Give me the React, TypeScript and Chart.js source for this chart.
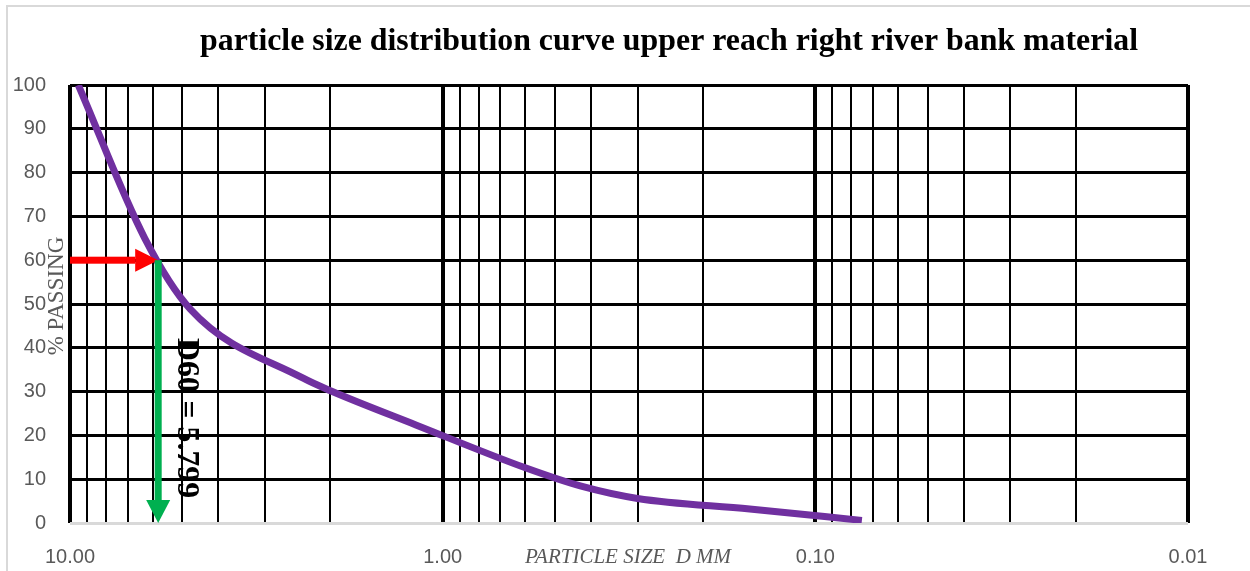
import React, { useEffect, useRef } from 'react';
import { Chart, registerables } from 'chart.js';

Chart.register(...registerables);

// ---- data ----
const SIEVE_SIZES_MM = [9.5, 6.3, 4.75, 2.36, 2.0, 1.18, 0.6, 0.425, 0.3, 0.15, 0.075];
const PERCENT_PASSING = [100, 65, 48.8, 33.0, 30.2, 22.4, 12.6, 8.4, 5.6, 3.2, 0.6];
const X_DECADES = [0.01, 0.1, 1];
const X_MULTIPLIERS = [1, 2, 3, 4, 5, 6, 7, 8, 9];
const X_MAX = 10;
const X_MIN = 0.01;
const Y_TICKS = [0, 5, 10, 15, 20, 25, 30, 35, 40, 45, 50, 55, 60, 65, 70, 75, 80, 85, 90, 95, 100];
const D60 = 5.799;
const D60_PERCENT = 60;
const TITLE = 'particle size distribution curve upper reach right river bank material';
const X_TITLE = 'PARTICLE SIZE  D MM';
const Y_TITLE = '% PASSING';
const D60_LABEL = 'D60 = 5.799';

const isDecade = (v: number) => Math.abs(Math.log10(v) - Math.round(Math.log10(v))) < 1e-9;

const annotationPlugin = {
  id: 'gsdAnnotations',
  beforeDraw(chart: any) {
    const ctx = chart.ctx;
    ctx.save();
    ctx.fillStyle = '#ffffff';
    ctx.fillRect(0, 0, chart.width, chart.height);
    ctx.strokeStyle = '#d9d9d9';
    ctx.lineWidth = 2;
    ctx.beginPath();
    ctx.moveTo(7, chart.height + 5);
    ctx.lineTo(7, 6);
    ctx.lineTo(chart.width + 5, 6);
    ctx.stroke();
    ctx.restore();
  },
  afterDatasetsDraw(chart: any) {
    const ctx = chart.ctx;
    const xs = chart.scales.x;
    const ys = chart.scales.y;
    const xD = xs.getPixelForValue(D60);
    const y60 = ys.getPixelForValue(D60_PERCENT);
    const xLeft = xs.getPixelForValue(X_MAX);
    const y0 = ys.getPixelForValue(0);
    ctx.save();
    const shaft = 7;
    const headL = 23;
    const headH = 11.5;
    // red horizontal arrow
    ctx.fillStyle = '#FF0000';
    ctx.fillRect(xLeft, y60 - shaft / 2, xD - headL - xLeft, shaft);
    ctx.beginPath();
    ctx.moveTo(xD - headL, y60 - headH);
    ctx.lineTo(xD, y60);
    ctx.lineTo(xD - headL, y60 + headH);
    ctx.closePath();
    ctx.fill();
    // green vertical arrow
    ctx.fillStyle = '#00B050';
    ctx.fillRect(xD - shaft / 2, y60, shaft, y0 - headL - y60);
    ctx.beginPath();
    ctx.moveTo(xD - 12, y0 - headL);
    ctx.lineTo(xD, y0);
    ctx.lineTo(xD + 12, y0 - headL);
    ctx.closePath();
    ctx.fill();
    ctx.restore();
  },
  afterDraw(chart: any) {
    const ctx = chart.ctx;
    ctx.save();
    // title (condensed)
    ctx.fillStyle = '#000000';
    ctx.font = 'bold 32px "Liberation Serif"';
    ctx.textAlign = 'center';
    ctx.textBaseline = 'alphabetic';
    const tw = ctx.measureText(TITLE).width;
    ctx.save();
    ctx.translate(669, 50);
    ctx.scale(938 / tw, 1);
    ctx.fillText(TITLE, 0, 0);
    ctx.restore();

    // D60 rotated label
    ctx.save();
    ctx.font = 'bold 32px "Liberation Serif"';
    const dw = ctx.measureText(D60_LABEL).width;
    ctx.translate(186, 418);
    ctx.rotate(Math.PI / 2);
    ctx.scale(160 / dw, 1);
    ctx.textAlign = 'center';
    ctx.textBaseline = 'middle';
    ctx.fillStyle = '#000000';
    ctx.fillText(D60_LABEL, 0, 0);
    ctx.restore();

    // Y title
    ctx.save();
    ctx.font = '23px "Liberation Serif"';
    ctx.fillStyle = '#595959';
    ctx.translate(57, 296);
    ctx.rotate(-Math.PI / 2);
    ctx.textAlign = 'center';
    ctx.textBaseline = 'middle';
    ctx.fillText(Y_TITLE, 0, 0);
    ctx.restore();

    // X title
    ctx.font = 'italic 21px "Liberation Serif"';
    ctx.fillStyle = '#595959';
    ctx.textAlign = 'center';
    ctx.textBaseline = 'middle';
    ctx.fillText(X_TITLE, 628, 557);
    ctx.restore();
  },
};

export default function App() {
  const ref = useRef<HTMLCanvasElement | null>(null);

  useEffect(() => {
    if (!ref.current) return;
    const points = SIEVE_SIZES_MM.map((s, i) => ({ x: s, y: PERCENT_PASSING[i] }));
    const xTickValues: number[] = [];
    X_DECADES.forEach((d) => X_MULTIPLIERS.forEach((m) => xTickValues.push(m * d)));
    xTickValues.push(X_MAX);

    const chart = new Chart(ref.current, {
      type: 'scatter',
      data: {
        datasets: [
          {
            data: points,
            showLine: true,
            borderColor: '#7030A0',
            backgroundColor: '#7030A0',
            borderWidth: 7,
            pointRadius: 0,
            cubicInterpolationMode: 'monotone',
            fill: false,
          } as any,
        ],
      },
      options: {
        animation: false,
        responsive: false,
        devicePixelRatio: 1,
        layout: { padding: { left: 0, right: 62, top: 85, bottom: 0 } },
        plugins: {
          legend: { display: false },
          title: { display: false },
          tooltip: { enabled: false },
        },
        scales: {
          x: {
            type: 'logarithmic',
            reverse: true,
            min: X_MIN,
            max: X_MAX,
            border: { display: false },
            afterBuildTicks: (scale: any) => {
              scale.ticks = xTickValues.map((v) => ({ value: v, major: isDecade(v) }));
            },
            afterFit: (scale: any) => {
              scale.height = 48;
            },
            grid: {
              color: '#000000',
              lineWidth: (c: any) => (c.tick && isDecade(c.tick.value) ? 4 : 2),
              drawTicks: false,
              offset: false,
            },
            ticks: {
              autoSkip: false,
              maxRotation: 0,
              minRotation: 0,
              padding: 22,
              color: '#595959',
              font: { family: '"Liberation Sans"', size: 20 },
              callback: (v: any) => (isDecade(Number(v)) ? Number(v).toFixed(2) : ''),
            },
          },
          y: {
            type: 'linear',
            min: 0,
            max: 100,
            border: { display: false },
            afterBuildTicks: (scale: any) => {
              scale.ticks = Y_TICKS.map((v) => ({ value: v }));
            },
            afterFit: (scale: any) => {
              scale.width = 70;
            },
            grid: {
              color: (c: any) => (c.tick && c.tick.value === 0 ? '#d9d9d9' : '#000000'),
              lineWidth: (c: any) => (c.tick && c.tick.value % 10 === 0 ? 3 : 2),
              drawTicks: false,
            },
            ticks: {
              padding: 24,
              color: '#595959',
              font: { family: '"Liberation Sans"', size: 20 },
              callback: (v: any) => (Number(v) % 10 === 0 ? String(v) : ''),
            },
          },
        },
      },
      plugins: [annotationPlugin],
    });
    return () => chart.destroy();
  }, []);

  return (
    <div style={{ position: 'fixed', left: 0, top: 0, width: 1250, height: 571, background: '#fff' }}>
      <canvas ref={ref} width={1250} height={571} style={{ display: 'block', width: 1250, height: 571 }} />
    </div>
  );
}
